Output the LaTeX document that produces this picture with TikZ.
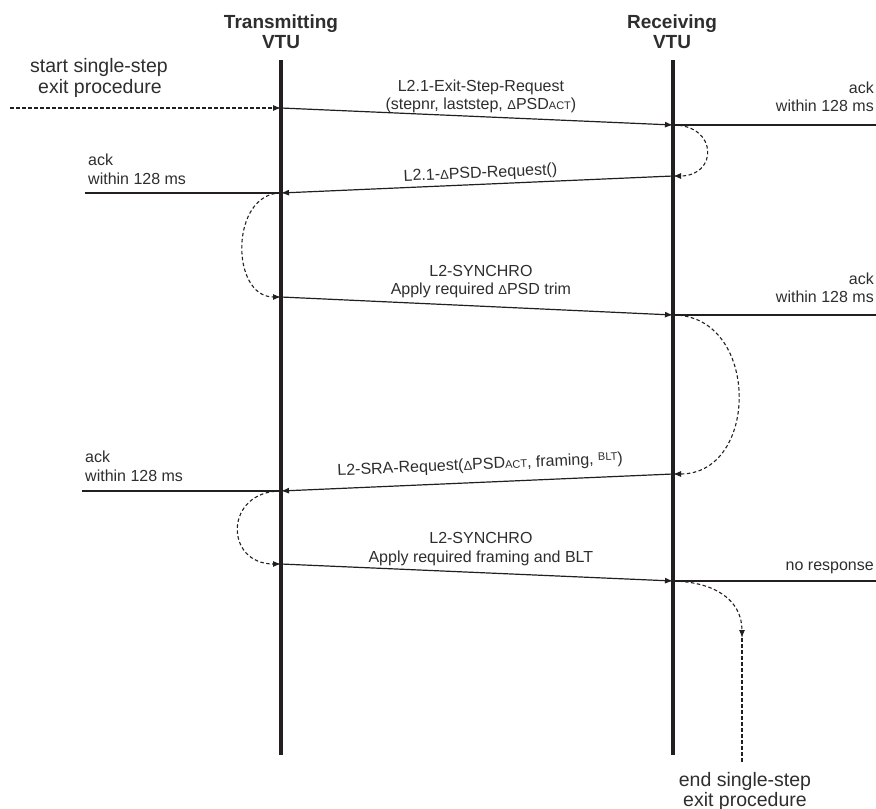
\documentclass[tikz,border=0pt]{standalone}
\usepackage{fontspec}
\setmainfont{Liberation Sans}
\usetikzlibrary{arrows.meta}
\definecolor{ink}{HTML}{231F20}
\definecolor{txt}{HTML}{2E2E2E}
\newcommand{\mysmall}[1]{{\fontsize{11}{11}\selectfont #1}}
\newcommand{\mydelta}{{\fontsize{13}{13}\selectfont Δ}}
\begin{document}
\begin{tikzpicture}[x=1pt,y=-1pt,
  life/.style={draw=ink, line width=4pt},
  msg/.style={draw=ink, line width=1.2pt, -{Latex[length=8pt,width=6pt]}},
  ackline/.style={draw=ink, line width=1.2pt},
  loopar/.style={draw=ink, line width=1.1pt, dash pattern=on 3.5pt off 2.5pt, -{Latex[length=8pt,width=6pt]}},
  dashln/.style={draw=ink, line width=1.1pt, dash pattern=on 3.5pt off 2.5pt},
  lbl/.style={text=txt, font=\fontsize{16}{18.5}\selectfont, inner sep=0pt, align=center},
  ack/.style={text=txt, font=\fontsize{16}{16}\selectfont, inner sep=0pt},
  head/.style={text=txt, font=\fontsize{19}{19}\selectfont\bfseries, inner sep=0pt},
  big/.style={text=txt, font=\fontsize{19.5}{19}\selectfont, inner sep=0pt},
]
\useasboundingbox (0,0) rectangle (876,809);
\fill[white] (0,0) rectangle (876,809);

% lifelines
\coordinate (T0) at (281,60);
\coordinate (T1) at (281,755);
\coordinate (R0) at (673,60);
\coordinate (R1) at (673,755);
\draw[life] (T0) -- (T1);
\draw[life] (R0) -- (R1);

% headers
\node[head, anchor=base] (th1) at (281,28) {Transmitting};
\node[head, anchor=base] (th2) at (281,48) {VTU};
\node[head, anchor=base] (rh1) at (672,28) {Receiving};
\node[head, anchor=base] (rh2) at (672,48) {VTU};

% start / end texts
\node[big, anchor=base] (st1) at (99,72) {start single-step};
\node[big, anchor=base] (st2) at (100,93) {exit procedure};
\node[big, anchor=base] (en1) at (745,786) {end single-step};
\node[big, anchor=base] (en2) at (745,806) {exit procedure};

% message points
\coordinate (s0) at (10,108);
\coordinate (t1) at (281,108);
\coordinate (r1) at (673,125);
\coordinate (r2) at (673,176);
\coordinate (t2) at (281,193);
\coordinate (t3) at (281,297);
\coordinate (r3) at (673,315);
\coordinate (r4) at (673,474);
\coordinate (t4) at (281,491);
\coordinate (t5) at (281,564);
\coordinate (r5) at (673,581);

% ack line ends
\coordinate (ra1) at (876,125);
\coordinate (la1) at (85,193);
\coordinate (ra2) at (876,315);
\coordinate (la2) at (82,491);
\coordinate (ra3) at (876,581);

% end arrow
\coordinate (e1) at (742,638);
\coordinate (e2) at (742,762);

% start arrow
\draw[loopar] (s0) -- (t1);

% messages
\draw[msg] (t1) -- node[lbl, above=3pt, pos=0.51] {L2.1-Exit-Step-Request\\(stepnr, laststep, \mydelta PSD\mysmall{ACT})} (r1);
\draw[msg] (r2) -- node[lbl, sloped, above=2.6pt, pos=0.49] {L2.1-\mydelta PSD-Request()} (t2);
\draw[msg] (t3) -- node[lbl, above=7.5pt, pos=0.51] {L2-SYNCHRO\\Apply required \mydelta PSD trim} (r3);
\draw[msg] (r4) -- node[lbl, sloped, above=9pt, pos=0.49] {L2-SRA-Request(\mydelta PSD\mysmall{ACT}, framing, \raisebox{3.5pt}{\mysmall{BLT}})} (t4);
\draw[msg] (t5) -- node[lbl, above=6.5pt, pos=0.51] {L2-SYNCHRO\\Apply required framing and BLT} (r5);

% ack lines
\draw[ackline] (r1) -- (ra1);
\draw[ackline] (la1) -- (t2);
\draw[ackline] (r3) -- (ra2);
\draw[ackline] (la2) -- (t4);
\draw[ackline] (r5) -- (ra3);

% ack texts
\node[ack, anchor=base east] (a1a) at (874,93) {ack};
\node[ack, anchor=base east] (a1b) at (874,111) {within 128 ms};
\node[ack, anchor=base west] (a2a) at (88,165) {ack};
\node[ack, anchor=base west] (a2b) at (88,184) {within 128 ms};
\node[ack, anchor=base east] (a3a) at (874,284) {ack};
\node[ack, anchor=base east] (a3b) at (874,302) {within 128 ms};
\node[ack, anchor=base west] (a4a) at (85,462) {ack};
\node[ack, anchor=base west] (a4b) at (85,481) {within 128 ms};
\node[ack, anchor=base east] (a5) at (874,570) {no response};

% loops
\draw[loopar] (r1) .. controls (718,125) and (718,176) .. (r2);
\draw[loopar] (t2) .. controls (230,193) and (230,297) .. (t3);
\draw[loopar] (r3) .. controls (760,315) and (760,474) .. (r4);
\draw[loopar] (t4) .. controls (224,491) and (224,564) .. (t5);
\draw[loopar] (r5) .. controls (715,582) and (742,600) .. (e1);
\draw[dashln] (e1) -- (e2);
\end{tikzpicture}
\end{document}
